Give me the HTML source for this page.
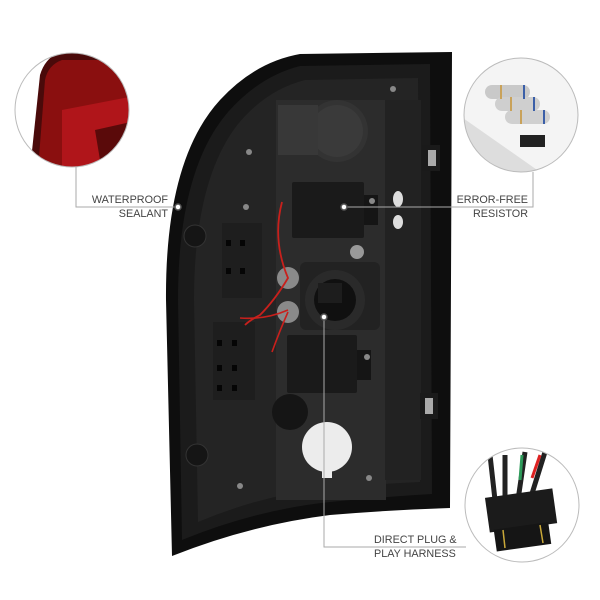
<!DOCTYPE html>
<html><head><meta charset="utf-8">
<style>
html,body{margin:0;padding:0;background:#fff;}
body{width:600px;height:600px;position:relative;overflow:hidden;font-family:"Liberation Sans",sans-serif;}
.t{position:absolute;font-size:10.8px;color:#444;line-height:14px;letter-spacing:0;white-space:nowrap;}
</style></head><body>
<svg width="600" height="600" viewBox="0 0 600 600" style="position:absolute;left:0;top:0">
<defs>
<clipPath id="cl"><circle cx="72" cy="110" r="57"/></clipPath>
<clipPath id="cr"><circle cx="521" cy="115" r="57"/></clipPath>
<clipPath id="cb"><circle cx="522" cy="505" r="57"/></clipPath>
</defs>
<path d="M300,54 L452,52 L450,508 Q390,510 330,515 Q250,525 172,556 L166,300 Q165,160 220,100 Q255,62 300,54 Z" fill="#0e0e0e"/>
<path d="M300,66 L430,64 L432,494 Q380,497 330,502 Q255,510 182,540 L178,300 Q178,170 228,112 Q260,76 300,66 Z" fill="#1b1b1b"/>
<path d="M305,80 L418,78 L420,482 Q375,484 330,488 Q265,494 198,522 L194,300 Q194,180 238,124 Q266,90 305,80 Z" fill="#242424"/>
<rect x="276" y="100" width="110" height="400" fill="#2c2c2c"/>
<rect x="385" y="100" width="36" height="380" fill="#222"/>
<circle cx="337" cy="131" r="31" fill="#333"/>
<circle cx="337" cy="131" r="26" fill="#3a3a3a"/>
<rect x="278" y="105" width="40" height="50" fill="#383838"/>
<rect x="292" y="182" width="72" height="56" fill="#1a1a1a" rx="2"/>
<rect x="287" y="335" width="70" height="58" fill="#1a1a1a" rx="2"/>
<rect x="364" y="195" width="14" height="30" fill="#151515"/>
<rect x="357" y="350" width="14" height="30" fill="#151515"/>
<rect x="300" y="262" width="80" height="68" fill="#222" rx="6"/>
<circle cx="335" cy="300" r="30" fill="#2a2a2a"/>
<circle cx="335" cy="300" r="21" fill="#101010"/>
<rect x="318" y="283" width="24" height="20" fill="#1d1d1d"/>
<circle cx="288" cy="278" r="11" fill="#8a8a8a"/>
<circle cx="288" cy="312" r="11" fill="#8a8a8a"/>
<circle cx="357" cy="252" r="7" fill="#999"/>
<rect x="222" y="223" width="40" height="75" fill="#1e1e1e"/>
<rect x="213" y="322" width="42" height="78" fill="#1e1e1e"/>
<g fill="#050505"><rect x="226" y="240" width="5" height="6"/><rect x="240" y="240" width="5" height="6"/><rect x="226" y="268" width="5" height="6"/><rect x="240" y="268" width="5" height="6"/><rect x="217" y="340" width="5" height="6"/><rect x="232" y="340" width="5" height="6"/><rect x="217" y="365" width="5" height="6"/><rect x="232" y="365" width="5" height="6"/><rect x="217" y="385" width="5" height="6"/><rect x="232" y="385" width="5" height="6"/></g>
<circle cx="195" cy="236" r="11" fill="#151515" stroke="#333"/>
<circle cx="197" cy="455" r="11" fill="#151515" stroke="#333"/>
<circle cx="290" cy="412" r="18" fill="#151515"/>
<rect x="422" y="145" width="18" height="26" fill="#1a1a1a"/><rect x="428" y="150" width="8" height="16" fill="#aaa"/>
<rect x="420" y="393" width="18" height="26" fill="#1a1a1a"/><rect x="425" y="398" width="8" height="16" fill="#aaa"/>
<circle cx="327" cy="447" r="25" fill="#ececec"/>
<rect x="322" y="468" width="10" height="10" fill="#ececec"/>
<ellipse cx="398" cy="199" rx="5" ry="8" fill="#ddd"/>
<ellipse cx="398" cy="222" rx="5" ry="7" fill="#ddd"/>
<g fill="#888"><circle cx="393" cy="89" r="3"/><circle cx="249" cy="152" r="3"/><circle cx="246" cy="207" r="3"/><circle cx="240" cy="486" r="3"/><circle cx="369" cy="478" r="3"/><circle cx="372" cy="201" r="3"/><circle cx="367" cy="357" r="3"/></g>
<path d="M282,202 Q272,240 288,278 Q275,300 260,315 Q250,320 245,325" stroke="#c8201c" stroke-width="1.8" fill="none"/>
<path d="M288,312 Q280,330 272,352 M240,318 Q265,320 288,310" stroke="#c8201c" stroke-width="1.6" fill="none"/>
<g clip-path="url(#cl)"><rect x="10" y="50" width="130" height="120" fill="#fff"/>
<path d="M40,75 Q45,58 60,52 L140,52 L140,170 L30,170 Z" fill="#4a0a0a"/>
<path d="M45,80 Q48,65 62,60 L140,60 L140,170 L38,170 Z" fill="#8a0f0f"/>
<path d="M62,110 L140,95 L140,170 L62,170 Z" fill="#b0151a"/>
<path d="M95,130 L140,120 L140,150 L100,160 Z" fill="#5a0a0a"/>
</g>
<circle cx="72" cy="110" r="57" fill="none" stroke="#bbb" stroke-width="1"/>
<g clip-path="url(#cr)"><rect x="460" y="55" width="125" height="125" fill="#f4f4f4"/>
<path d="M463,118 L540,172 L470,172 Z" fill="#ddd"/>
<g><rect x="485" y="85" width="45" height="14" rx="7" fill="#c9c9c9"/><rect x="495" y="97" width="45" height="14" rx="7" fill="#cfcfcf"/><rect x="505" y="110" width="45" height="14" rx="7" fill="#d0d0d0"/>
<rect x="523" y="85" width="2" height="14" fill="#3b5fa8"/><rect x="533" y="97" width="2" height="14" fill="#3b5fa8"/><rect x="543" y="110" width="2" height="14" fill="#3b5fa8"/>
<rect x="500" y="85" width="2" height="14" fill="#c9a25a"/><rect x="510" y="97" width="2" height="14" fill="#c9a25a"/><rect x="520" y="110" width="2" height="14" fill="#c9a25a"/></g>
<rect x="520" y="135" width="25" height="12" fill="#222"/>
</g>
<circle cx="521" cy="115" r="57" fill="none" stroke="#bbb" stroke-width="1"/>
<g clip-path="url(#cb)"><rect x="460" y="445" width="125" height="125" fill="#fff"/>
<path d="M495,500 L490,455 M505,500 L505,455 M518,500 L525,452 M530,500 L545,452" stroke="#222" stroke-width="5" fill="none"/>
<path d="M520,480 L522,455" stroke="#2d9a5a" stroke-width="3"/><path d="M532,478 L540,455" stroke="#d22" stroke-width="3"/>
<rect x="487" y="493" width="68" height="35" fill="#1b1b1b" transform="rotate(-8 521 510)"/>
<rect x="495" y="526" width="55" height="22" fill="#151515" transform="rotate(-8 521 537)"/>
<path d="M503,530 L505,548 M540,525 L543,543" stroke="#c9a838" stroke-width="1.5"/>
</g>
<circle cx="522" cy="505" r="57" fill="none" stroke="#bbb" stroke-width="1"/>
<g stroke="#aaa" stroke-width="1" fill="none">
<path d="M76,167 L76,207 L176,207"/>
<path d="M344,207 L533,207 L533,172"/>
<path d="M324,317 L324,547 L466,547"/>
</g>
<g fill="#fff" stroke="#555" stroke-width="1.5">
<circle cx="178" cy="207" r="3"/><circle cx="344" cy="207" r="3"/><circle cx="324" cy="317" r="3"/>
</g>
</svg>
<div class="t" style="right:432px;top:193px;text-align:right">WATERPROOF<br>SEALANT</div>
<div class="t" style="right:72px;top:193px;text-align:right">ERROR-FREE<br>RESISTOR</div>
<div class="t" style="left:374px;top:533px">DIRECT PLUG &amp;<br>PLAY HARNESS</div>
</body></html>
